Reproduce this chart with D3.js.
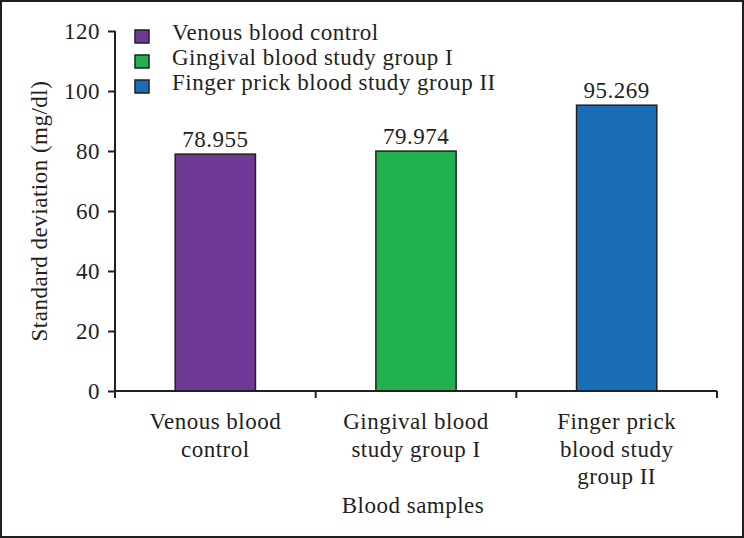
<!DOCTYPE html>
<html>
<head>
<meta charset="utf-8">
<script src="https://cdn.jsdelivr.net/npm/d3@7"></script>
<style>
  body { margin: 0; background: #fff; }
  svg { display: block; }
  text { font-family: "Liberation Serif", "Times New Roman", serif; fill: #231f20; letter-spacing: 0.5px; }
</style>
</head>
<body>
<div id="chart"></div>
<script>
const categories = ["Venous blood control", "Gingival blood study group I", "Finger prick blood study group II"];
const axisLabels = [["Venous blood", "control"], ["Gingival blood", "study group I"], ["Finger prick", "blood study", "group II"]];
const values = [78.955, 79.974, 95.269];
const valueLabels = ["78.955", "79.974", "95.269"];
const colors = ["#6f3996", "#22b14f", "#1a6eb8"];
const yTicks = [0, 20, 40, 60, 80, 100, 120];

const width = 744, height = 538;
const margin = {top: 31, right: 27, bottom: 147, left: 115};
const fs = 23;

const svg = d3.select("#chart").append("svg")
    .attr("width", width).attr("height", height);

// outer frame
svg.append("rect")
    .attr("x", 1).attr("y", 1)
    .attr("width", width - 2).attr("height", height - 2)
    .attr("fill", "none").attr("stroke", "#231f20").attr("stroke-width", 2);

const x = d3.scaleBand()
    .domain(categories)
    .range([margin.left, width - margin.right])
    .paddingInner(0).paddingOuter(0);

const y = d3.scaleLinear()
    .domain([0, 120])
    .range([height - margin.bottom, margin.top]);

const barW = x.bandwidth() * 0.4;

// bars
svg.append("g")
  .selectAll("rect")
  .data(values)
  .join("rect")
    .attr("x", (d, i) => x(categories[i]) + (x.bandwidth() - barW) / 2)
    .attr("y", d => y(d))
    .attr("width", barW)
    .attr("height", d => y(0) - y(d))
    .attr("fill", (d, i) => colors[i])
    .attr("stroke", "#231f20")
    .attr("stroke-width", 1.5);

// value labels
svg.append("g")
  .selectAll("text")
  .data(values)
  .join("text")
    .attr("x", (d, i) => x(categories[i]) + x.bandwidth() / 2)
    .attr("y", d => y(d) - 7)
    .attr("text-anchor", "middle")
    .attr("font-size", fs)
    .text((d, i) => valueLabels[i]);

// y axis
const yAxis = svg.append("g")
    .attr("transform", `translate(${margin.left},0)`)
    .call(d3.axisLeft(y).tickValues(yTicks).tickSize(7).tickPadding(8));
yAxis.select(".domain").attr("d", `M0,${y(120)}V${y(0) + 7}`);
yAxis.selectAll("line, .domain").attr("stroke", "#231f20").attr("stroke-width", 2);
yAxis.selectAll("text")
    .attr("font-size", fs)
    .attr("fill", "#231f20");

// x axis
const xAxis = svg.append("g")
    .attr("transform", `translate(0,${y(0)})`);
xAxis.append("path")
    .attr("d", `M${margin.left},0H${width - margin.right}`)
    .attr("stroke", "#231f20").attr("stroke-width", 2).attr("fill", "none");
xAxis.selectAll("line.tick")
  .data(categories)
  .join("line")
    .attr("class", "tick")
    .attr("x1", d => x(d) + x.bandwidth()).attr("x2", d => x(d) + x.bandwidth())
    .attr("y1", 0).attr("y2", 7)
    .attr("stroke", "#231f20").attr("stroke-width", 2);

const catLabels = xAxis.selectAll("text.cat")
  .data(categories)
  .join("text")
    .attr("class", "cat")
    .attr("text-anchor", "middle")
    .attr("font-size", fs);
catLabels.each(function(d, i) {
  d3.select(this).selectAll("tspan")
    .data(axisLabels[i])
    .join("tspan")
      .attr("x", x(d) + x.bandwidth() / 2)
      .attr("y", (t, j) => 38 + j * 27.5)
      .text(t => t);
});

// axis titles
svg.append("text")
    .attr("x", (margin.left + width - margin.right) / 2 - 3)
    .attr("y", 513)
    .attr("text-anchor", "middle")
    .attr("font-size", fs)
    .text("Blood samples");

svg.append("text")
    .attr("transform", `translate(47,${(y(0) + y(120)) / 2}) rotate(-90)`)
    .attr("text-anchor", "middle")
    .attr("font-size", fs)
    .text("Standard deviation (mg/dl)");

// legend
const legend = svg.append("g").attr("transform", "translate(135,29)");
const rows = legend.selectAll("g")
  .data(categories)
  .join("g")
    .attr("transform", (d, i) => `translate(0,${i * 25})`);
rows.append("rect")
    .attr("y", 1)
    .attr("width", 14).attr("height", 13)
    .attr("fill", (d, i) => colors[i])
    .attr("stroke", "#231f20").attr("stroke-width", 1.5);
rows.append("text")
    .attr("x", 37).attr("y", 11)
    .attr("font-size", fs)
    .text(d => d);
</script>
</body>
</html>
